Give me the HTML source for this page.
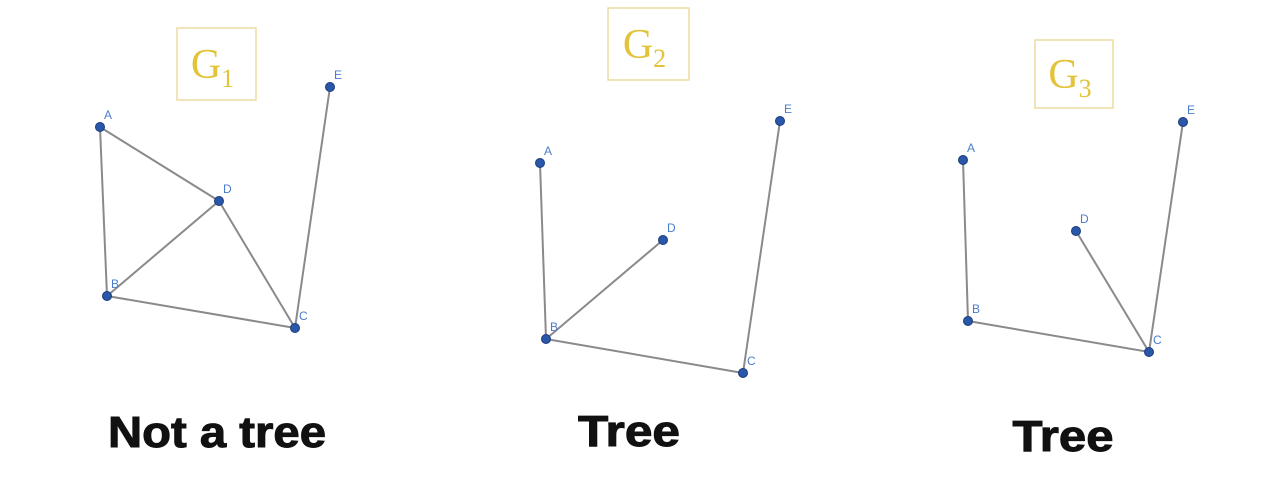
<!DOCTYPE html>
<html><head><meta charset="utf-8"><style>
body{margin:0;background:#fff;width:1262px;height:496px;overflow:hidden}
svg{display:block}
.lbl{font-family:"Liberation Sans",sans-serif;font-size:12px;fill:#4a7ccc}
.cap{font-family:"Liberation Sans",sans-serif;font-weight:bold;font-size:44px;fill:#111;stroke:#111;stroke-width:1}
.g{font-family:"Liberation Serif",serif;font-size:42px;fill:#e2c33a}
.gs{font-size:26px}
</style></head><body>
<svg id="chart" width="1262" height="496" viewBox="0 0 1262 496">
<g id="root"></g>
</svg>
<script>
const graphNames = ["1","2","3"];
const captions = ["Not a tree","Tree","Tree"];
const nodeIds = ["A","B","C","D","E"];
const nodeX = [[100,107,295,219,330],[540,546,743,663,780],[963,968,1149,1076,1183]];
const nodeY = [[127,296,328,201,87],[163,339,373,240,121],[160,321,352,231,122]];
const edges = [[["A","B"],["A","D"],["B","D"],["D","C"],["B","C"],["C","E"]],
               [["A","B"],["B","D"],["B","C"],["C","E"]],
               [["A","B"],["B","C"],["D","C"],["C","E"]]];
const boxes = [[177,28,79,72],[608,8,81,72],[1035,40,78,68]];
const capPos = [[217,447],[629,446],[1063,451]];
const capWidth = [218,102,101];
const NS="http://www.w3.org/2000/svg";
const root=document.getElementById('root');
function mk(t,a,p){const e=document.createElementNS(NS,t);for(const k in a)e.setAttribute(k,a[k]);(p||root).appendChild(e);return e;}
graphNames.forEach((gn,gi)=>{
  const g=mk('g',{});
  
  
  const b=boxes[gi];
  const r=mk('rect',{x:b[0],y:b[1],width:b[2],height:b[3],fill:'none',stroke:'#ecdca0','stroke-width':1.5},g);
  
  
  const t=mk('text',{x:b[0]+b[2]/2-4,y:b[1]+b[3]/2+14,'text-anchor':'middle',class:'g'},g);
  
  
  t.innerHTML='G<tspan class="gs" dy="9">'+gn+'</tspan>';
  edges[gi].forEach(e=>{
    const i=nodeIds.indexOf(e[0]),j=nodeIds.indexOf(e[1]);
    const l=mk('line',{x1:nodeX[gi][i],y1:nodeY[gi][i],x2:nodeX[gi][j],y2:nodeY[gi][j],stroke:'#8a8a8a','stroke-width':2},g);
    
    
  });
  nodeIds.forEach((n,i)=>{
    const c=mk('circle',{cx:nodeX[gi][i],cy:nodeY[gi][i],r:4.5,fill:'#2a57a8',stroke:'#1a3c80','stroke-width':1},g);
    
    
    const tx=mk('text',{x:nodeX[gi][i]+4,y:nodeY[gi][i]-8,class:'lbl'},g);
    
    
    tx.textContent=n;
  });
  const cp=mk('text',{x:capPos[gi][0]-capWidth[gi]/2,y:capPos[gi][1],class:'cap',textLength:capWidth[gi],lengthAdjust:'spacingAndGlyphs'},g);
  
  
  cp.textContent=captions[gi];
});
</script>
</body></html>
